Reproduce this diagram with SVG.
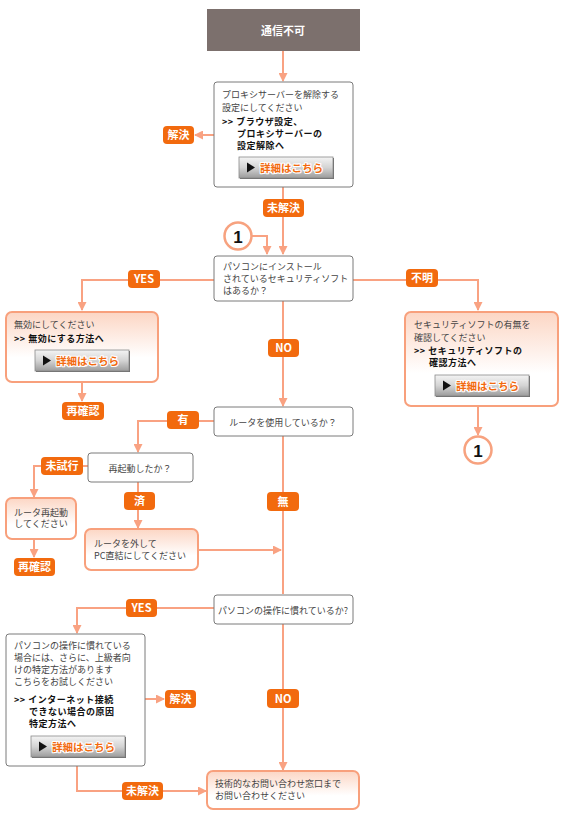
<svg xmlns="http://www.w3.org/2000/svg" width="564" height="820" viewBox="0 0 564 820">
<defs>
<style>
text{font-family:"Noto Sans CJK JP","Noto Sans",sans-serif}
.t{font-size:9px;fill:#444}
.b{font-size:9px;letter-spacing:0.5px;fill:#111;font-weight:bold}
.box{fill:#fff;stroke:#7a7a7a;stroke-width:1}
.obox{fill:url(#peach);stroke:#f8a07c;stroke-width:2}
.conn{fill:none;stroke:#f9a282;stroke-width:2}
.lbl rect{fill:#f26a0e}
.lbl text{font-size:11px;font-weight:bold;fill:#fff;text-anchor:middle}
.btnbg{fill:url(#btn);stroke:#8a8a8a;stroke-width:0.8}
.btnt{font-size:10.5px;font-weight:bold;fill:#f26a0e;stroke:#fff;stroke-width:2.2;paint-order:stroke;stroke-linejoin:round}
.circ{fill:#fff;stroke:#f7a27f;stroke-width:2.5}
.one{font-size:17px;font-weight:bold;fill:#111;text-anchor:middle;font-family:"Liberation Sans",sans-serif}
</style>
<linearGradient id="peach" x1="0" y1="0" x2="0" y2="1">
<stop offset="0" stop-color="#fcd6c4"/>
<stop offset="0.65" stop-color="#fff"/>
<stop offset="1" stop-color="#fff"/>
</linearGradient>
<linearGradient id="btn" x1="0" y1="0" x2="0" y2="1">
<stop offset="0" stop-color="#f4f4f4"/>
<stop offset="0.5" stop-color="#d4d4d4"/>
<stop offset="1" stop-color="#9c9c9c"/>
</linearGradient>
<marker id="arr" markerUnits="userSpaceOnUse" markerWidth="9" markerHeight="9" refX="8" refY="4.5" orient="auto">
<path d="M0,0 L9,4.5 L0,9 z" fill="#f9a282"/>
</marker>
<g id="button">
<rect x="1" y="1" width="94" height="21" fill="#6a6a6a"/>
<rect class="btnbg" x="0" y="0" width="94" height="21"/>
<polygon points="8,5.5 16,10.5 8,15.5" fill="#111"/>
<text class="btnt" x="21" y="14.5">詳細はこちら</text>
</g>
</defs>

<g id="connectors">
<path class="conn" d="M283,50 V81" marker-end="url(#arr)"/>
<path class="conn" d="M214,135 H195" marker-end="url(#arr)"/>
<path class="conn" d="M283,187 V254" marker-end="url(#arr)"/>
<path class="conn" d="M252,236 H267 V254" marker-end="url(#arr)"/>
<path class="conn" d="M214,280 H82 V310" marker-end="url(#arr)"/>
<path class="conn" d="M353,280 H478 V310" marker-end="url(#arr)"/>
<path class="conn" d="M82,382 V401" marker-end="url(#arr)"/>
<path class="conn" d="M478,406 V435" marker-end="url(#arr)"/>
<path class="conn" d="M283,301 V406" marker-end="url(#arr)"/>
<path class="conn" d="M214,421 H138 V452" marker-end="url(#arr)"/>
<path class="conn" d="M88,466 H34 V497" marker-end="url(#arr)"/>
<path class="conn" d="M34,539 V557" marker-end="url(#arr)"/>
<path class="conn" d="M138,482 V528" marker-end="url(#arr)"/>
<path class="conn" d="M198,550 H281" marker-end="url(#arr)"/>
<path class="conn" d="M283,436 V594"/>
<path class="conn" d="M214,608 H77 V633" marker-end="url(#arr)"/>
<path class="conn" d="M145,699 H164" marker-end="url(#arr)"/>
<path class="conn" d="M283,624 V770" marker-end="url(#arr)"/>
<path class="conn" d="M77,766 V791 H206" marker-end="url(#arr)"/>
</g>

<g id="start">
<rect x="207" y="9" width="153" height="42" fill="#7c706d"/>
<text x="283" y="35" font-size="11" font-weight="bold" fill="#fff" text-anchor="middle">通信不可</text>
</g>

<g id="proxy">
<rect class="box" x="214" y="82" width="139" height="105" rx="3"/>
<text class="t" x="222" y="97.5">プロキシサーバーを解除する<tspan x="222" dy="13">設定にしてください</tspan></text>
<text class="b" x="222" y="124.5">&gt;&gt; ブラウザ設定、<tspan x="237" dy="12">プロキシサーバーの</tspan><tspan x="237" dy="12">設定解除へ</tspan></text>
<use href="#button" x="239" y="157"/>
</g>

<g id="security">
<rect class="box" x="214" y="256" width="139" height="45" rx="3"/>
<text class="t" x="223" y="270">パソコンにインストール<tspan x="223" dy="12">されているセキュリティソフト</tspan><tspan x="223" dy="11.7">はあるか？</tspan></text>
</g>

<g id="disable">
<rect class="obox" x="6" y="312" width="152" height="70" rx="6"/>
<text class="t" x="14" y="328">無効にしてください</text>
<text class="b" x="14" y="342">&gt;&gt; 無効にする方法へ</text>
<use href="#button" x="35" y="350"/>
</g>

<g id="check-security">
<rect class="obox" x="405" y="312" width="153" height="94" rx="6"/>
<text class="t" x="414" y="328">セキュリティソフトの有無を<tspan x="414" dy="13">確認してください</tspan></text>
<text class="b" x="414" y="354">&gt;&gt; セキュリティソフトの<tspan x="429" dy="12">確認方法へ</tspan></text>
<use href="#button" x="435" y="375"/>
</g>

<g id="ref1-top">
<circle class="circ" cx="238" cy="236" r="13.5"/>
<text class="one" x="238" y="242.5">1</text>
</g>
<g id="ref1-bottom">
<circle class="circ" cx="478" cy="450" r="13.5"/>
<text class="one" x="478" y="456.5">1</text>
</g>

<g id="router">
<rect class="box" x="214" y="407" width="139" height="29" rx="3"/>
<text class="t" x="283" y="425.5" text-anchor="middle">ルータを使用しているか？</text>
</g>

<g id="reboot">
<rect class="box" x="88" y="453" width="105" height="29" rx="3"/>
<text class="t" x="140" y="471.5" text-anchor="middle">再起動したか？</text>
</g>

<g id="router-restart">
<rect class="obox" x="6" y="498" width="70" height="41" rx="6"/>
<text class="t" x="41" y="515.5" text-anchor="middle">ルータ再起動<tspan x="41" dy="11.7">してください</tspan></text>
</g>

<g id="direct">
<rect class="obox" x="85" y="529" width="113" height="41" rx="6"/>
<text class="t" x="94" y="547">ルータを外して<tspan x="94" dy="11.7">PC直結にしてください</tspan></text>
</g>

<g id="skill">
<rect class="box" x="214" y="595" width="139" height="29" rx="3"/>
<text class="t" x="283" y="613.5" text-anchor="middle">パソコンの操作に慣れているか?</text>
</g>

<g id="advanced">
<rect class="box" x="6" y="634" width="139" height="132" rx="3"/>
<text class="t" x="14" y="648.5">パソコンの操作に慣れている<tspan x="14" dy="12.5">場合には、さらに、上級者向</tspan><tspan x="14" dy="12">けの特定方法があります</tspan><tspan x="14" dy="11.7">こちらをお試しください</tspan></text>
<text class="b" x="14" y="703">&gt;&gt; インターネット接続<tspan x="29" dy="12">できない場合の原因</tspan><tspan x="29" dy="12">特定方法へ</tspan></text>
<use href="#button" x="31" y="736"/>
</g>

<g id="support">
<rect class="obox" x="207" y="771" width="152" height="38" rx="6"/>
<text class="t" x="215" y="787">技術的なお問い合わせ窓口まで<tspan x="215" dy="11.7">お問い合わせください</tspan></text>
</g>

<g id="labels">
<g class="lbl"><rect x="163" y="126" width="31" height="18" rx="4"/><text x="178.5" y="139">解決</text></g>
<g class="lbl"><rect x="263" y="199" width="41" height="18" rx="4"/><text x="283.5" y="212">未解決</text></g>
<g class="lbl"><rect x="128" y="270" width="32" height="18" rx="4"/><text x="144" y="283">YES</text></g>
<g class="lbl"><rect x="406" y="269" width="32" height="18" rx="4"/><text x="422" y="282">不明</text></g>
<g class="lbl"><rect x="268" y="339" width="31" height="18" rx="4"/><text x="283.5" y="352">NO</text></g>
<g class="lbl"><rect x="62" y="402" width="42" height="18" rx="4"/><text x="83" y="415">再確認</text></g>
<g class="lbl"><rect x="167" y="411" width="32" height="18" rx="4"/><text x="183" y="424">有</text></g>
<g class="lbl"><rect x="41" y="457" width="42" height="18" rx="4"/><text x="62" y="470">未試行</text></g>
<g class="lbl"><rect x="124" y="492" width="31" height="18" rx="4"/><text x="139.5" y="505">済</text></g>
<g class="lbl"><rect x="267" y="492" width="32" height="19" rx="4"/><text x="283" y="505.5">無</text></g>
<g class="lbl"><rect x="14" y="558" width="41" height="18" rx="4"/><text x="34.5" y="571">再確認</text></g>
<g class="lbl"><rect x="126" y="599" width="31" height="18" rx="4"/><text x="141.5" y="612">YES</text></g>
<g class="lbl"><rect x="165" y="690" width="31" height="18" rx="4"/><text x="180.5" y="703">解決</text></g>
<g class="lbl"><rect x="267" y="689" width="32" height="19" rx="4"/><text x="283" y="702.5">NO</text></g>
<g class="lbl"><rect x="122" y="782" width="41" height="18" rx="4"/><text x="142.5" y="795">未解決</text></g>
</g>
</svg>
